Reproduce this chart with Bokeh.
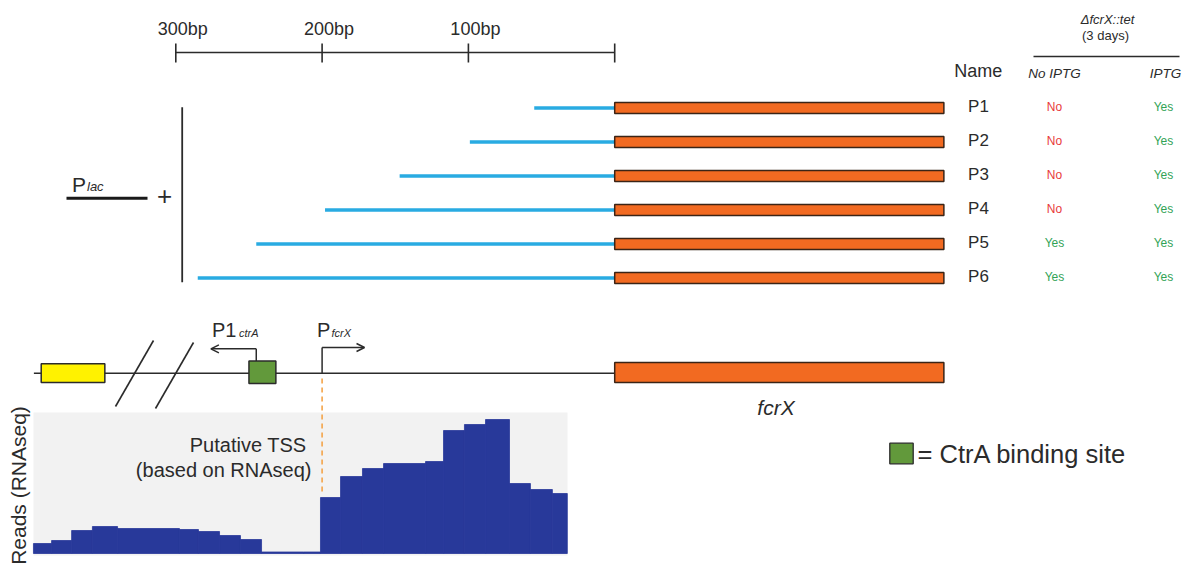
import math
from bokeh.plotting import figure
from bokeh.models import Range1d, Arrow, OpenHead
from bokeh.core.properties import value
from bokeh.embed import file_html
from bokeh.resources import INLINE

# ---------------- data ----------------
construct_names = ["P1", "P2", "P3", "P4", "P5", "P6"]
construct_len_bp = [55, 99, 147, 198, 245, 285]          # upstream length of each construct
growth_no_iptg = ["No", "No", "No", "No", "Yes", "Yes"]
growth_iptg = ["Yes", "Yes", "Yes", "Yes", "Yes", "Yes"]
scale_ticks_bp = [300, 200, 100, 0]
scale_labels = ["300bp", "200bp", "100bp"]
gene_len_bp = 225

# gene-map features (bp upstream of fcrX start)
map_start_bp = 397
upstream_gene_bp = [392, 348.5]
ctrA_site_bp = [250, 231.6]
p1ctrA_bp = 245
p1ctrA_arrow_bp = 276
tss_bp = 200
pfcrx_arrow_bp = 171

# RNAseq read coverage (bin edges in bp upstream, reads per bin)
read_bin_edges_bp = [397.3, 384.9, 371.2, 357.0, 339.8, 297.5, 284.5, 270.1, 255.8,
                     241.4, 212.7, 201.1, 187.4, 172.4, 158.0, 129.3, 117.0, 102.7,
                     88.3, 71.9, 57.6, 42.6, 32.4]
reads = [10, 13, 23, 27, 25, 24, 22, 18, 14, 1.5, 1.5, 56, 77, 85, 90, 92,
         123, 129, 134, 70, 64, 60]

# ---------------- style ----------------
LINE = "#2b2b2b"
BLUE = "#29abe2"
ORANGE = "#f26a21"
ORANGE_EDGE = "#3b2416"
YELLOW = "#fff200"
GREEN = "#62993b"
NAVY = "#28399a"
PANEL = "#f2f2f2"
RED = "#e83a3a"
GTXT = "#32a356"
DASH = "#f4a54a"
TXT = "#2b2b2b"
FONT = value("Liberation Sans")

W, H = 1184, 567
PX0, K = 614.2, 1.463
p = figure(width=W, height=H, output_backend="svg", toolbar_location=None,
           x_range=Range1d(PX0 / K, (PX0 - W) / K),
           y_range=Range1d(H, 0),
           x_axis_type=None, y_axis_type=None, min_border=0,
           outline_line_color=None, background_fill_color="white",
           border_fill_color="white")
p.extra_x_ranges = {"px": Range1d(0, W)}
p.extra_y_ranges = {"reads": Range1d(-(H - 553), 553)}


def txt(x, y, s, size, color=TXT, align="left", baseline="middle",
        style="normal", angle=0.0, xr="px"):
    p.text(x=[x], y=[y], text=[s], text_font=FONT, text_font_size=f"{size}px",
           text_color=color, text_align=align, text_baseline=baseline,
           text_font_style=style, angle=angle, x_range_name=xr)


# ---------------- top scale ----------------
SCALE_Y = 52
p.segment(x0=[max(scale_ticks_bp)], x1=[min(scale_ticks_bp)], y0=[SCALE_Y], y1=[SCALE_Y],
          line_color=LINE, line_width=1.6)
p.segment(x0=scale_ticks_bp, x1=scale_ticks_bp, y0=[SCALE_Y - 9] * 4, y1=[SCALE_Y + 10] * 4,
          line_color=LINE, line_width=1.6)
p.text(x=scale_ticks_bp[:3], y=[28] * 3, text=scale_labels, x_offset=7,
       text_font=FONT, text_font_size="18px", text_color=TXT, text_align="center",
       text_baseline="middle")

# ---------------- constructs ----------------
ROW_Y0, ROW_DY = 107.5, 34.0
rows_y = [ROW_Y0 + ROW_DY * i for i in range(len(construct_names))]
n = len(rows_y)
p.segment(x0=construct_len_bp, x1=[0] * n, y0=rows_y, y1=rows_y,
          line_color=BLUE, line_width=3.3)
p.quad(left=[0] * n, right=[-gene_len_bp] * n,
       top=[y - 5.5 for y in rows_y], bottom=[y + 5.5 for y in rows_y],
       fill_color=ORANGE, line_color=ORANGE_EDGE, line_width=1.5)

# bracket + Plac
p.segment(x0=[181.7], x1=[181.7], y0=[106.7], y1=[281.7], line_color=LINE,
          line_width=1.8, x_range_name="px")
p.segment(x0=[66], x1=[147], y0=[197.7], y1=[197.7], line_color="#1a1a1a",
          line_width=3, x_range_name="px")
txt(71.5, 183.5, "P", 21)
txt(86.5, 186, "lac", 13, style="italic")
txt(164, 195, "+", 26, align="center")

# ---------------- table ----------------
txt(1107, 19, "\u0394fcrX::tet", 13, style="italic", align="center")
txt(1105, 35, "(3 days)", 13, align="center")
p.segment(x0=[1033], x1=[1179], y0=[56], y1=[56], line_color=LINE, line_width=1.6,
          x_range_name="px")
txt(977.7, 70.5, "Name", 18, align="center")
txt(1054, 73, "No IPTG", 13.5, style="italic", align="center")
txt(1165, 73, "IPTG", 13.5, style="italic", align="center")
p.text(x=[978] * n, y=[y - 1.5 for y in rows_y], text=construct_names, text_font=FONT,
       text_font_size="17px", text_color=TXT, text_align="center",
       text_baseline="middle", x_range_name="px")
p.text(x=[1054] * n, y=[y - 1 for y in rows_y], text=growth_no_iptg, text_font=FONT,
       text_font_size="12px", text_color=[RED if g == "No" else GTXT for g in growth_no_iptg],
       text_align="center", text_baseline="middle", x_range_name="px")
p.text(x=[1163] * n, y=[y - 1 for y in rows_y], text=growth_iptg, text_font=FONT,
       text_font_size="12px", text_color=[RED if g == "No" else GTXT for g in growth_iptg],
       text_align="center", text_baseline="middle", x_range_name="px")

# ---------------- gene map ----------------
MAP_Y = 372.7
p.segment(x0=[map_start_bp], x1=[0], y0=[MAP_Y], y1=[MAP_Y], line_color=LINE, line_width=1.6)
p.quad(left=[upstream_gene_bp[0]], right=[upstream_gene_bp[1]], top=[363.3], bottom=[382],
       fill_color=YELLOW, line_color=LINE, line_width=1.5)
# break marks
p.segment(x0=[115, 155], y0=[406, 408], x1=[153, 193], y1=[340, 342],
          line_color=LINE, line_width=1.6, x_range_name="px")
p.quad(left=[ctrA_site_bp[0]], right=[ctrA_site_bp[1]], top=[360.5], bottom=[383],
       fill_color=GREEN, line_color=LINE, line_width=1.5)
p.quad(left=[0], right=[-gene_len_bp], top=[362], bottom=[382],
       fill_color=ORANGE, line_color=ORANGE_EDGE, line_width=1.5)

# P1ctrA promoter arrow
p.segment(x0=[p1ctrA_bp], x1=[p1ctrA_bp], y0=[360.5], y1=[348.3], line_color=LINE, line_width=1.5)
p.add_layout(Arrow(x_start=p1ctrA_bp, y_start=348.3, x_end=p1ctrA_arrow_bp, y_end=348.3,
                   line_color=LINE, line_width=1.5,
                   end=OpenHead(size=8, line_width=1.5, line_color=LINE)))
# PfcrX promoter arrow
p.segment(x0=[tss_bp], x1=[tss_bp], y0=[MAP_Y], y1=[347], line_color=LINE, line_width=1.5)
p.add_layout(Arrow(x_start=tss_bp, y_start=347, x_end=pfcrx_arrow_bp, y_end=347,
                   line_color=LINE, line_width=1.5,
                   end=OpenHead(size=8, line_width=1.5, line_color=LINE)))
txt(211.5, 329.5, "P1", 20)
txt(238.5, 332, "ctrA", 11, style="italic")
txt(316.5, 329.5, "P", 20)
txt(331, 332, "fcrX", 11, style="italic")
txt(775.5, 406.5, "fcrX", 21, style="italic", align="center")

# ---------------- RNAseq panel ----------------
p.quad(left=[33], right=[567], top=[412], bottom=[555], fill_color=PANEL,
       line_color=None, x_range_name="px")
p.quad(left=read_bin_edges_bp[:-1], right=read_bin_edges_bp[1:], bottom=[0] * len(reads),
       top=reads, fill_color=NAVY, line_color=NAVY, line_width=0.8, y_range_name="reads")
p.segment(x0=[tss_bp], x1=[tss_bp], y0=[378], y1=[494], line_color=DASH, line_width=1.6,
          line_dash="5 4")
txt(306, 444, "Putative TSS", 20, align="right")
txt(311, 469, "(based on RNAseq)", 20, align="right")
txt(18, 485, "Reads (RNAseq)", 21, align="center", angle=math.pi / 2)

# ---------------- legend ----------------
p.quad(left=[889.3], right=[912.7], top=[442.7], bottom=[463.3], fill_color=GREEN,
       line_color=LINE, line_width=1.3, x_range_name="px")
txt(917, 453, "= CtrA binding site", 25.5)

open("out.html", "w").write(file_html(p, INLINE))
